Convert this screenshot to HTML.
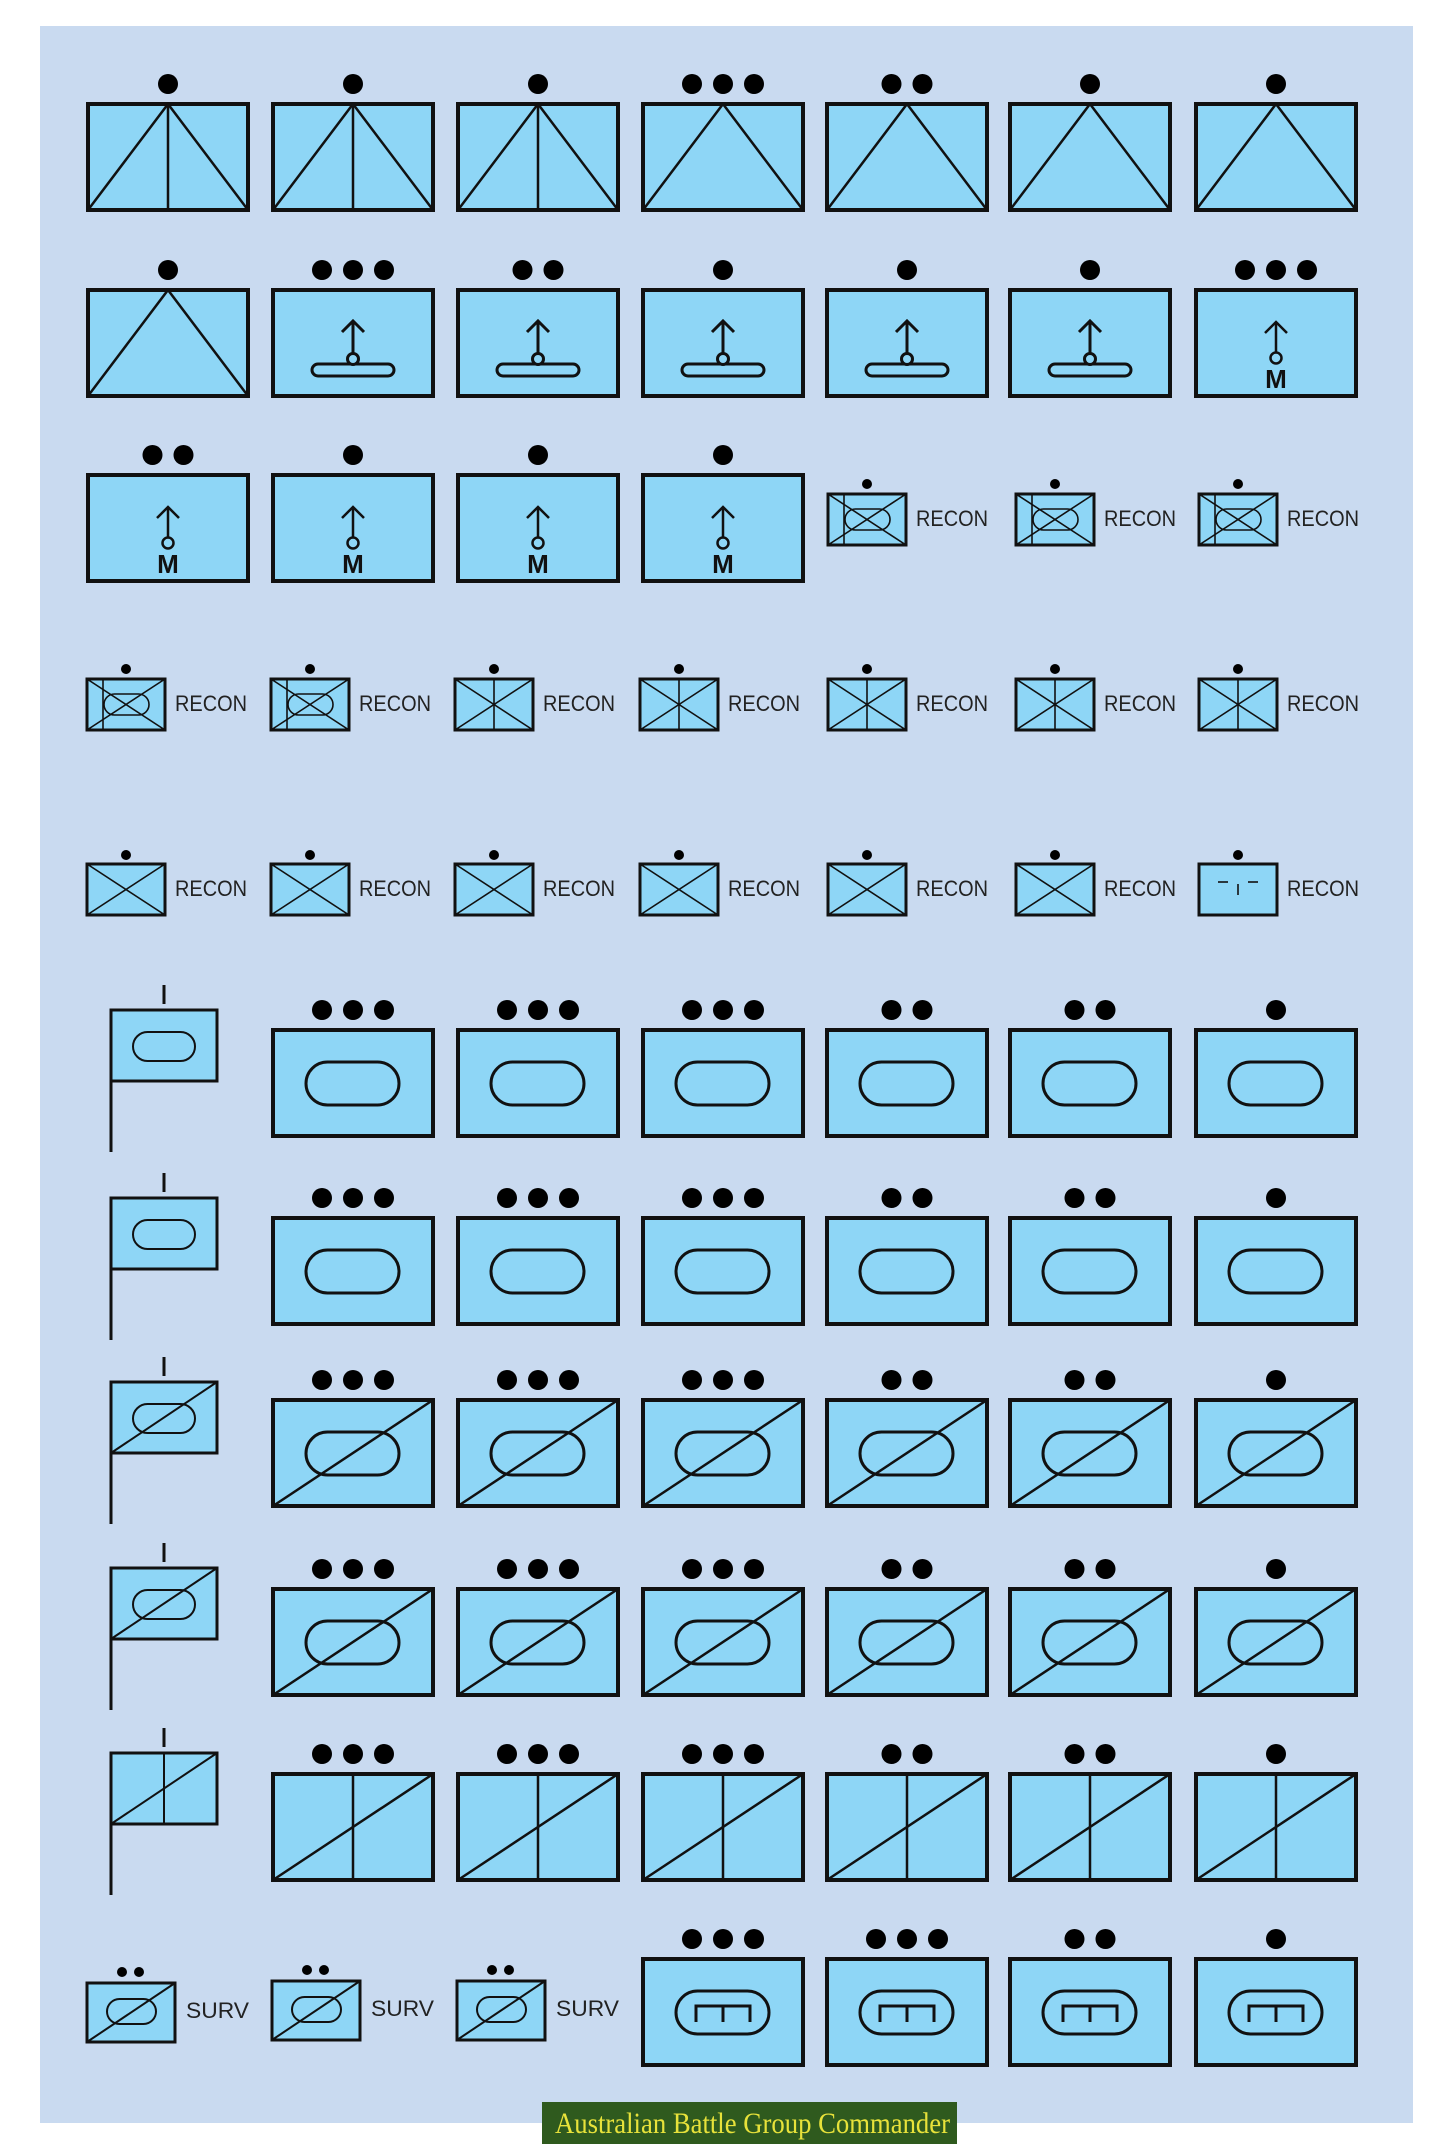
<!DOCTYPE html>
<html><head><meta charset="utf-8"><style>
html,body{margin:0;padding:0;background:#fff;}
svg{display:block;}
</style></head><body>
<svg width="1445" height="2148" viewBox="0 0 1445 2148" xmlns="http://www.w3.org/2000/svg">
<defs>
<g id="bb"><rect x="0" y="0" width="160" height="106" fill="#8ed6f6" stroke="#111" stroke-width="4"/></g>
<g id="triV" fill="none" stroke="#111" stroke-width="2.5"><use href="#bb"/><polyline points="0,106 80,0 160,106"/><line x1="80" y1="0" x2="80" y2="106"/></g>
<g id="tri" fill="none" stroke="#111" stroke-width="2.5"><use href="#bb"/><polyline points="0,106 80,0 160,106"/></g>
<g id="wheel" fill="none" stroke="#111" stroke-width="3"><use href="#bb"/><line x1="80" y1="31" x2="80" y2="63"/><polyline points="69,42 80,31 91,42"/><rect x="39" y="74" width="82" height="12" rx="6" fill="#8ed6f6"/><circle cx="80" cy="69" r="5.5" fill="#8ed6f6"/></g>
<g id="marr" fill="none" stroke="#111" stroke-width="2.5"><use href="#bb"/><line x1="80" y1="32" x2="80" y2="62"/><polyline points="69,43 80,32 91,43"/><circle cx="80" cy="68" r="5.5" fill="#8ed6f6"/></g>
<g id="stad" fill="none" stroke="#111" stroke-width="3"><use href="#bb"/><rect x="33" y="32" width="93" height="43" rx="21.5"/></g>
<g id="stadD" fill="none" stroke="#111" stroke-width="3"><use href="#stad"/><line x1="0" y1="106" x2="160" y2="0" stroke-width="2.5"/></g>
<g id="vd" fill="none" stroke="#111" stroke-width="2.5"><use href="#bb"/><line x1="80" y1="0" x2="80" y2="106"/><line x1="0" y1="106" x2="160" y2="0"/></g>
<g id="comb" fill="none" stroke="#111" stroke-width="3"><use href="#bb"/><rect x="33" y="32" width="93" height="43" rx="21.5"/><polyline points="53,63 53,47 107,47 107,63"/><line x1="80" y1="47" x2="80" y2="63"/></g>
<g id="rb"><rect x="0" y="0" width="78" height="51" fill="#8ed6f6" stroke="#111" stroke-width="3"/></g>
<g id="rA" fill="none" stroke="#111" stroke-width="1.6"><use href="#rb"/><line x1="0" y1="0" x2="78" y2="51"/><line x1="0" y1="51" x2="78" y2="0"/><line x1="16" y1="0" x2="16" y2="51"/><rect x="17" y="15" width="45" height="21" rx="10.5"/></g>
<g id="rB" fill="none" stroke="#111" stroke-width="1.6"><use href="#rb"/><line x1="0" y1="0" x2="78" y2="51"/><line x1="0" y1="51" x2="78" y2="0"/><line x1="39" y1="0" x2="39" y2="51"/></g>
<g id="rC" fill="none" stroke="#111" stroke-width="1.6"><use href="#rb"/><line x1="0" y1="0" x2="78" y2="51"/><line x1="0" y1="51" x2="78" y2="0"/></g>
<g id="rD" fill="none" stroke="#111" stroke-width="1.6"><use href="#rb"/><line x1="19" y1="18" x2="29" y2="18"/><line x1="49" y1="18" x2="59" y2="18"/><line x1="39" y1="20" x2="39" y2="31"/></g>
<g id="fb" fill="none" stroke="#111"><line x1="111" y1="0" x2="111" y2="142" stroke-width="3"/><line x1="164" y1="-25" x2="164" y2="-6" stroke-width="3"/><rect x="111" y="0" width="106" height="71" fill="#8ed6f6" stroke-width="3"/></g>
<g id="fS" fill="none" stroke="#111" stroke-width="2"><use href="#fb"/><rect x="133" y="22" width="62" height="29" rx="14.5"/></g>
<g id="fSD" fill="none" stroke="#111" stroke-width="2"><use href="#fS"/><line x1="111" y1="71" x2="217" y2="0"/></g>
<g id="fVD" fill="none" stroke="#111" stroke-width="2"><use href="#fb"/><line x1="164" y1="0" x2="164" y2="71"/><line x1="111" y1="71" x2="217" y2="0"/></g>
<g id="surv" fill="none" stroke="#111" stroke-width="2"><rect x="0" y="0" width="88" height="59" fill="#8ed6f6" stroke-width="3"/><rect x="20" y="16" width="49" height="25" rx="12.5"/><line x1="0" y1="59" x2="88" y2="0"/></g>
</defs>
<rect x="40" y="26" width="1373" height="2097" fill="#c9daf0"/>

<g fill="#000">
<circle cx="168" cy="84" r="10"/><circle cx="353" cy="84" r="10"/><circle cx="538" cy="84" r="10"/>
<circle cx="692" cy="84" r="10"/><circle cx="723" cy="84" r="10"/><circle cx="754" cy="84" r="10"/>
<circle cx="891.5" cy="84" r="10"/><circle cx="922.5" cy="84" r="10"/>
<circle cx="1090" cy="84" r="10"/><circle cx="1276" cy="84" r="10"/>
<circle cx="168" cy="270" r="10"/>
<circle cx="322" cy="270" r="10"/><circle cx="353" cy="270" r="10"/><circle cx="384" cy="270" r="10"/>
<circle cx="522.5" cy="270" r="10"/><circle cx="553.5" cy="270" r="10"/>
<circle cx="723" cy="270" r="10"/><circle cx="907" cy="270" r="10"/><circle cx="1090" cy="270" r="10"/>
<circle cx="1245" cy="270" r="10"/><circle cx="1276" cy="270" r="10"/><circle cx="1307" cy="270" r="10"/>
<circle cx="152.5" cy="455" r="10"/><circle cx="183.5" cy="455" r="10"/>
<circle cx="353" cy="455" r="10"/><circle cx="538" cy="455" r="10"/><circle cx="723" cy="455" r="10"/>
<circle cx="867" cy="484" r="5"/><circle cx="1055" cy="484" r="5"/><circle cx="1238" cy="484" r="5"/>
<circle cx="126" cy="669" r="5"/><circle cx="310" cy="669" r="5"/><circle cx="494" cy="669" r="5"/><circle cx="679" cy="669" r="5"/><circle cx="867" cy="669" r="5"/><circle cx="1055" cy="669" r="5"/><circle cx="1238" cy="669" r="5"/>
<circle cx="126" cy="855" r="5"/><circle cx="310" cy="855" r="5"/><circle cx="494" cy="855" r="5"/><circle cx="679" cy="855" r="5"/><circle cx="867" cy="855" r="5"/><circle cx="1055" cy="855" r="5"/><circle cx="1238" cy="855" r="5"/>
</g>

<use href="#triV" x="88" y="104"/><use href="#triV" x="273" y="104"/><use href="#triV" x="458" y="104"/>
<use href="#tri" x="643" y="104"/><use href="#tri" x="827" y="104"/><use href="#tri" x="1010" y="104"/><use href="#tri" x="1196" y="104"/>

<use href="#tri" x="88" y="290"/><use href="#wheel" x="273" y="290"/><use href="#wheel" x="458" y="290"/><use href="#wheel" x="643" y="290"/><use href="#wheel" x="827" y="290"/><use href="#wheel" x="1010" y="290"/><use href="#marr" x="1196" y="290"/>

<use href="#marr" x="88" y="475"/><use href="#marr" x="273" y="475"/><use href="#marr" x="458" y="475"/><use href="#marr" x="643" y="475"/>
<use href="#rA" x="828" y="494"/><use href="#rA" x="1016" y="494"/><use href="#rA" x="1199" y="494"/>

<use href="#rA" x="87" y="679"/><use href="#rA" x="271" y="679"/><use href="#rB" x="455" y="679"/><use href="#rB" x="640" y="679"/><use href="#rB" x="828" y="679"/><use href="#rB" x="1016" y="679"/><use href="#rB" x="1199" y="679"/>
<use href="#rC" x="87" y="864"/><use href="#rC" x="271" y="864"/><use href="#rC" x="455" y="864"/><use href="#rC" x="640" y="864"/><use href="#rC" x="828" y="864"/><use href="#rC" x="1016" y="864"/><use href="#rD" x="1199" y="864"/>

<g font-family="Liberation Sans, sans-serif" font-weight="bold" font-size="26" fill="#111" text-anchor="middle">
<text x="1276" y="388">M</text>
<text x="168" y="573">M</text><text x="353" y="573">M</text><text x="538" y="573">M</text><text x="723" y="573">M</text>
</g>

<g font-family="Liberation Sans, sans-serif" font-size="22" fill="#222" lengthAdjust="spacingAndGlyphs">
<text x="916" y="526" textLength="72" lengthAdjust="spacingAndGlyphs">RECON</text><text x="1104" y="526" textLength="72" lengthAdjust="spacingAndGlyphs">RECON</text><text x="1287" y="526" textLength="72" lengthAdjust="spacingAndGlyphs">RECON</text>
<text x="175" y="711" textLength="72" lengthAdjust="spacingAndGlyphs">RECON</text><text x="359" y="711" textLength="72" lengthAdjust="spacingAndGlyphs">RECON</text><text x="543" y="711" textLength="72" lengthAdjust="spacingAndGlyphs">RECON</text><text x="728" y="711" textLength="72" lengthAdjust="spacingAndGlyphs">RECON</text><text x="916" y="711" textLength="72" lengthAdjust="spacingAndGlyphs">RECON</text><text x="1104" y="711" textLength="72" lengthAdjust="spacingAndGlyphs">RECON</text><text x="1287" y="711" textLength="72" lengthAdjust="spacingAndGlyphs">RECON</text>
<text x="175" y="896" textLength="72" lengthAdjust="spacingAndGlyphs">RECON</text><text x="359" y="896" textLength="72" lengthAdjust="spacingAndGlyphs">RECON</text><text x="543" y="896" textLength="72" lengthAdjust="spacingAndGlyphs">RECON</text><text x="728" y="896" textLength="72" lengthAdjust="spacingAndGlyphs">RECON</text><text x="916" y="896" textLength="72" lengthAdjust="spacingAndGlyphs">RECON</text><text x="1104" y="896" textLength="72" lengthAdjust="spacingAndGlyphs">RECON</text><text x="1287" y="896" textLength="72" lengthAdjust="spacingAndGlyphs">RECON</text>
<text x="186" y="2018" textLength="63" lengthAdjust="spacingAndGlyphs">SURV</text><text x="371" y="2016" textLength="63" lengthAdjust="spacingAndGlyphs">SURV</text><text x="556" y="2016" textLength="63" lengthAdjust="spacingAndGlyphs">SURV</text>
</g>

<use href="#fS" x="0" y="1010"/><use href="#stad" x="273" y="1030"/><use href="#stad" x="458" y="1030"/><use href="#stad" x="643" y="1030"/><use href="#stad" x="827" y="1030"/><use href="#stad" x="1010" y="1030"/><use href="#stad" x="1196" y="1030"/>
<use href="#fS" x="0" y="1198"/><use href="#stad" x="273" y="1218"/><use href="#stad" x="458" y="1218"/><use href="#stad" x="643" y="1218"/><use href="#stad" x="827" y="1218"/><use href="#stad" x="1010" y="1218"/><use href="#stad" x="1196" y="1218"/>
<use href="#fSD" x="0" y="1382"/><use href="#stadD" x="273" y="1400"/><use href="#stadD" x="458" y="1400"/><use href="#stadD" x="643" y="1400"/><use href="#stadD" x="827" y="1400"/><use href="#stadD" x="1010" y="1400"/><use href="#stadD" x="1196" y="1400"/>
<use href="#fSD" x="0" y="1568"/><use href="#stadD" x="273" y="1589"/><use href="#stadD" x="458" y="1589"/><use href="#stadD" x="643" y="1589"/><use href="#stadD" x="827" y="1589"/><use href="#stadD" x="1010" y="1589"/><use href="#stadD" x="1196" y="1589"/>
<use href="#fVD" x="0" y="1753"/><use href="#vd" x="273" y="1774"/><use href="#vd" x="458" y="1774"/><use href="#vd" x="643" y="1774"/><use href="#vd" x="827" y="1774"/><use href="#vd" x="1010" y="1774"/><use href="#vd" x="1196" y="1774"/>

<g fill="#000">
<g id="d6">
<circle cx="322" cy="1010" r="10"/><circle cx="353" cy="1010" r="10"/><circle cx="384" cy="1010" r="10"/>
<circle cx="507" cy="1010" r="10"/><circle cx="538" cy="1010" r="10"/><circle cx="569" cy="1010" r="10"/>
<circle cx="692" cy="1010" r="10"/><circle cx="723" cy="1010" r="10"/><circle cx="754" cy="1010" r="10"/>
<circle cx="891.5" cy="1010" r="10"/><circle cx="922.5" cy="1010" r="10"/>
<circle cx="1074.5" cy="1010" r="10"/><circle cx="1105.5" cy="1010" r="10"/>
<circle cx="1276" cy="1010" r="10"/>
</g>
<use href="#d6" y="188"/><use href="#d6" y="370"/><use href="#d6" y="559"/><use href="#d6" y="744"/>
<circle cx="692" cy="1939" r="10"/><circle cx="723" cy="1939" r="10"/><circle cx="754" cy="1939" r="10"/>
<circle cx="876" cy="1939" r="10"/><circle cx="907" cy="1939" r="10"/><circle cx="938" cy="1939" r="10"/>
<circle cx="1074.5" cy="1939" r="10"/><circle cx="1105.5" cy="1939" r="10"/>
<circle cx="1276" cy="1939" r="10"/>
<circle cx="122" cy="1972" r="5"/><circle cx="139" cy="1972" r="5"/>
<circle cx="307" cy="1970" r="5"/><circle cx="324" cy="1970" r="5"/>
<circle cx="492" cy="1970" r="5"/><circle cx="509" cy="1970" r="5"/>
</g>
<use href="#surv" x="87" y="1983"/><use href="#surv" x="272" y="1981"/><use href="#surv" x="457" y="1981"/>
<use href="#comb" x="643" y="1959"/><use href="#comb" x="827" y="1959"/><use href="#comb" x="1010" y="1959"/><use href="#comb" x="1196" y="1959"/>

<rect x="542" y="2102" width="415" height="42" fill="#2f5a1e"/>
<text x="555" y="2133" font-family="Liberation Serif, serif" font-size="30" fill="#e8e23a" textLength="395" lengthAdjust="spacingAndGlyphs">Australian Battle Group  Commander</text>
</svg>
</body></html>
